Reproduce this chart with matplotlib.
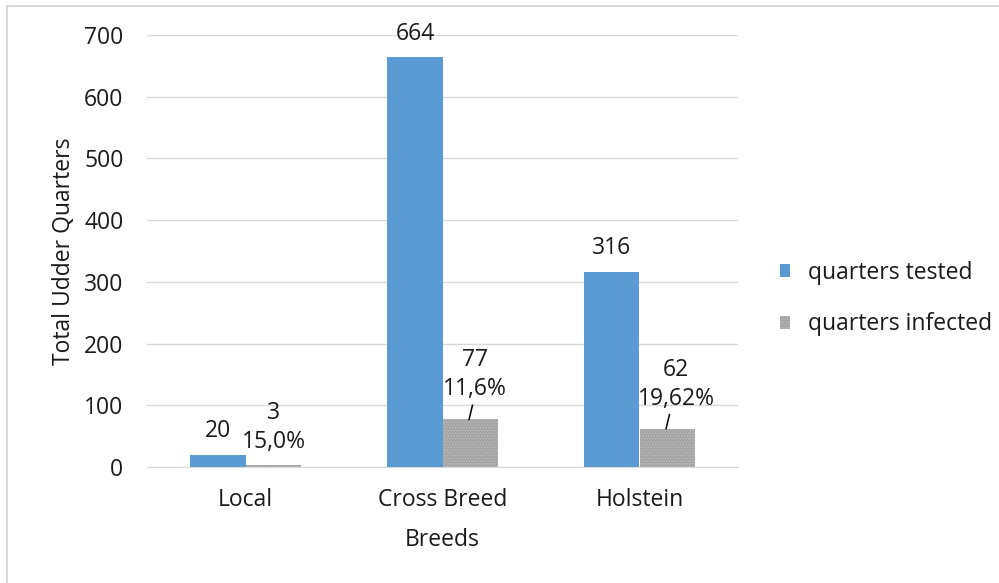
import matplotlib.pyplot as plt
from matplotlib.patches import Rectangle
import numpy as np

plt.rcParams["font.family"] = ["Open Sans", "DejaVu Sans"]
plt.rcParams["hatch.linewidth"] = 0.6

breeds = ["Local", "Cross Breed", "Holstein"]
tested = [20, 664, 316]
infected = [3, 77, 62]
infected_pct = ["15,0%", "11,6%", "19,62%"]

W, H = 999, 583
FS = 16.5
fig = plt.figure(figsize=(W / 100, H / 100), dpi=100)

# light frame around the chart area
fig.patches.append(Rectangle((7 / W, -0.05), 1.1, 1 - 6 / H + 0.05,
                             transform=fig.transFigure, fill=False,
                             edgecolor="#d9d9d9", linewidth=1.5))

ax = fig.add_axes([147 / W, 1 - 467 / H, (738 - 147) / W, (467 - 35) / H])

x = np.arange(len(breeds))
bw = 0.28
blue = "#5b9bd5"
ax.bar(x - bw / 2, tested, bw, color=blue, label="quarters tested", zorder=3)
ax.bar(x + bw / 2, infected, bw, color="#a5a5a5", edgecolor="#c0c0c0",
       hatch="......", linewidth=0, label="quarters infected", zorder=3)

ax.set_xlim(-0.5, 2.5)
ax.set_ylim(0, 700)
ax.set_yticks(range(0, 701, 100))
ax.yaxis.grid(True, color="#d9d9d9", linewidth=1, zorder=0)
ax.tick_params(length=0, labelsize=FS, colors="#1a1a1a")
ax.tick_params(axis="y", pad=17)
ax.tick_params(axis="x", pad=15)
ax.set_xticks(x)
ax.set_xticklabels(breeds)
for s in ["top", "right", "left"]:
    ax.spines[s].set_visible(False)
ax.spines["bottom"].set_color("#d9d9d9")

ax.set_ylabel("Total Udder Quarters", fontsize=FS, labelpad=6, color="#1a1a1a")
ax.set_xlabel("Breeds", fontsize=FS, labelpad=12, color="#1a1a1a")

# value labels for tested bars
for xi, v in zip(x, tested):
    ax.annotate(str(v), (xi - bw / 2, v), xytext=(0, 17),
                textcoords="offset points", ha="center", va="center",
                fontsize=FS, color="#1a1a1a")

# count and percentage for infected bars, with small leader lines
offsets = [(0.5, 27), (3.6, 32.5), (6.5, 32)]
for xi, v, p, (dx, dy) in zip(x, infected, infected_pct, offsets):
    ax.annotate(f"{v}\n{p}", (xi + bw / 2, v), xytext=(dx, dy),
                textcoords="offset points", ha="center", va="center",
                fontsize=FS, linespacing=1.25, color="#1a1a1a")
for xi, v in zip(x[1:], infected[1:]):
    ax.plot([xi + bw / 2 - 0.005, xi + bw / 2 + 0.012], [v, v + 23],
            color="black", linewidth=1.1, zorder=4)

leg = ax.legend(loc="center left", bbox_to_anchor=((780 - 147) / 591, 0.39),
                frameon=False, fontsize=FS, handlelength=0.45, handleheight=0.5,
                labelspacing=1.2, handletextpad=0.75, borderpad=0,
                borderaxespad=0)
for t in leg.get_texts():
    t.set_color("#1a1a1a")

fig.savefig("out.png", dpi=100)
